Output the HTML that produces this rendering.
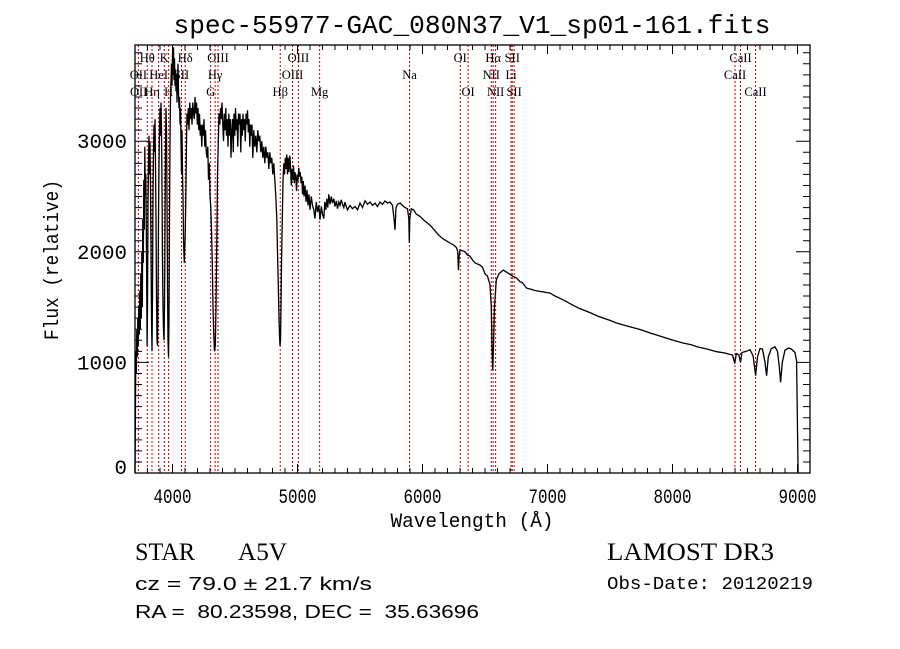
<!DOCTYPE html>
<html><head><meta charset="utf-8"><style>
html,body{margin:0;padding:0;background:#fff;}
svg{display:block;}
text{white-space:pre;}
.mono{font-family:"Liberation Mono","DejaVu Sans Mono",monospace;}
.serif{font-family:"Liberation Serif","DejaVu Serif",serif;}
.sans{font-family:"Liberation Sans","DejaVu Sans",sans-serif;}
</style></head>
<body>
<svg id="chart" width="900" height="649" viewBox="0 0 900 649" xmlns="http://www.w3.org/2000/svg">
<rect width="900" height="649" fill="#fff"/>
<text class="mono" x="472" y="33" font-size="26" text-anchor="middle" textLength="597" lengthAdjust="spacingAndGlyphs">spec-55977-GAC_080N37_V1_sp01-161.fits</text>
<g id="lines"></g>
<g id="labels"></g>
<g id="spec"></g>
<g id="axes"></g>
<text class="mono" transform="translate(58,260) rotate(-90)" font-size="20" text-anchor="middle" textLength="160" lengthAdjust="spacingAndGlyphs">Flux (relative)</text>
<text class="mono" x="472" y="527" font-size="20" text-anchor="middle" textLength="163" lengthAdjust="spacingAndGlyphs">Wavelength (Å)</text>
<text class="serif" x="135" y="560" font-size="25" textLength="60" lengthAdjust="spacingAndGlyphs">STAR</text>
<text class="serif" x="238" y="560" font-size="25" textLength="49" lengthAdjust="spacingAndGlyphs">A5V</text>
<text class="serif" x="607" y="560" font-size="25" textLength="167" lengthAdjust="spacingAndGlyphs">LAMOST DR3</text>
<text class="sans" x="135" y="590" font-size="18" textLength="237" lengthAdjust="spacingAndGlyphs">cz = 79.0 ± 21.7 km/s</text>
<text class="mono" x="607" y="589" font-size="18" textLength="206" lengthAdjust="spacingAndGlyphs">Obs-Date: 20120219</text>
<text class="sans" x="135" y="618" font-size="18" xml:space="preserve" textLength="344" lengthAdjust="spacingAndGlyphs">RA =  80.23598, DEC =  35.63696</text>
</svg>
<script>
const xTicks = [4000,5000,6000,7000,8000,9000];
const yTicks = [0,1000,2000,3000];
const lineWaves = [3727,3798,3836,3889,3934,3969,4072,4102,4305,4341,4364,4862,4960,5007,5177,5896,6302,6365,6550,6565,6585,6708,6718,6733,8500,8544,8664];
const labelNames = ["Hθ","K","Hδ","OIII","OIII","OI","Hα","SII","CaII","OII","HeI","SII","Hγ","OIII","Na","NII","Li","CaII","OII","Hη","H","G","Hβ","Mg","OI","NII","SII","CaII"];
const labelWaves = [3798,3934,4102,4364,5007,6302,6565,6718,8544,3727,3889,4072,4341,4960,5896,6550,6708,8500,3729,3836,3969,4305,4862,5177,6365,6585,6733,8664];
const labelRows = [0,0,0,0,0,0,0,0,0,1,1,1,1,1,1,1,1,1,2,2,2,2,2,2,2,2,2,2];
const specBlue = [[3700,0],[3703,500],[3706,1100],[3710,900],[3714,1300],[3718,1050],[3722,1400],[3726,1150],[3730,1500],[3734,1250],[3738,1650],[3742,1300],[3746,1800],[3750,1400],[3754,2000],[3758,1500],[3762,2300],[3766,1900],[3770,2650],[3774,2200],[3778,2950],[3782,2500],[3786,2700],[3790,2200],[3794,1600],[3797,1150],[3800,1500],[3804,2400],[3808,2800],[3812,3050],[3816,2700],[3820,3000],[3824,2600],[3828,2000],[3832,1400],[3836,1100],[3840,1600],[3844,2500],[3848,2900],[3852,3150],[3856,2900],[3860,3200],[3864,2800],[3868,2300],[3872,1600],[3876,1200],[3880,1150],[3884,1600],[3888,2300],[3892,2800],[3896,3100],[3900,3300],[3904,3050],[3908,3350],[3912,3100],[3916,2600],[3920,1900],[3924,1500],[3928,1300],[3932,1200],[3936,1500],[3940,2200],[3944,2900],[3948,3300],[3952,3100],[3956,2500],[3960,1700],[3964,1200],[3968,1050],[3972,1400],[3976,2300],[3980,3000],[3984,3400],[3988,3550],[3992,3700],[3996,3500],[4000,3800],[4004,3600],[4008,3850],[4012,3550],[4016,3750],[4020,3500],[4024,3650],[4028,3450],[4032,3600],[4036,3350],[4040,3550],[4044,3700],[4048,3450],[4052,3300],[4056,3400],[4060,3150],[4064,3300],[4068,3000],[4072,2700],[4076,3100],[4080,2700],[4084,2500],[4088,2100],[4094,1900],[4100,2100],[4104,2300],[4108,2600],[4112,3000],[4116,3250],[4120,3150],[4126,3300],[4132,3100],[4138,3350],[4144,3200],[4150,3300],[4156,3150],[4162,3350],[4168,3250],[4174,3200],[4180,3400],[4186,3250],[4192,3350],[4198,3150],[4204,3300],[4210,3100],[4216,3250],[4222,3050],[4228,3150],[4234,2950],[4240,3150],[4246,3050],[4252,3200],[4258,2950],[4264,3100],[4270,2900],[4276,2850],[4282,2950],[4288,2650],[4294,2800],[4300,2500],[4306,2400],[4312,2200],[4318,1900],[4324,1500],[4330,1250],[4336,1100],[4342,1150],[4348,1500],[4354,2100],[4360,2700],[4366,3000],[4372,3250],[4378,3150],[4384,3300],[4390,3200],[4396,3350],[4402,3150],[4408,3000],[4414,3250],[4420,3100],[4426,3300],[4432,3050],[4438,3200],[4444,2950],[4450,3250],[4456,3050],[4462,3200],[4468,2850],[4474,3100],[4480,3200],[4486,2900],[4492,3250],[4498,3050],[4504,3300],[4510,3100],[4516,3200],[4522,2950],[4528,3250],[4534,3150],[4540,3250],[4546,2900],[4552,3200],[4558,3050],[4564,3250],[4570,3100],[4576,3200],[4582,3000],[4588,3250],[4594,3150],[4600,3280],[4606,3080],[4612,3200],[4618,2950],[4624,3150],[4630,3050],[4636,3150],[4642,2850],[4650,3100],[4658,2950],[4666,3050],[4674,2900],[4682,3100],[4690,3000],[4698,3050],[4706,2900],[4714,3000],[4722,2850],[4730,2950],[4738,2800],[4746,2950],[4754,2850],[4762,2900],[4770,2750],[4778,2900],[4786,2800],[4794,2850],[4802,2700],[4810,2800]];
const specGreen = [[4818,2650],[4826,2500],[4834,2300],[4840,2000],[4846,1700],[4852,1400],[4856,1250],[4860,1150],[4864,1200],[4868,1500],[4872,1900],[4878,2300],[4884,2650],[4890,2800],[4896,2700],[4902,2850],[4908,2750],[4914,2880],[4920,2700],[4926,2850],[4932,2720],[4938,2870],[4944,2780],[4950,2600],[4956,2750],[4962,2650],[4968,2780],[4974,2620],[4980,2720],[4986,2680],[4992,2550],[4998,2700],[5004,2640],[5010,2760],[5016,2680],[5022,2720],[5028,2620],[5034,2680],[5040,2520],[5046,2640],[5052,2500],[5060,2600],[5068,2450],[5076,2560],[5084,2420],[5092,2520],[5100,2380],[5110,2500],[5120,2420],[5130,2380],[5140,2300],[5150,2450],[5160,2360],[5170,2420],[5180,2290],[5190,2410],[5200,2340],[5210,2300],[5218,2450],[5226,2380],[5234,2480],[5242,2400],[5250,2520],[5260,2430],[5270,2500],[5280,2440],[5290,2480],[5300,2410],[5310,2460],[5320,2390],[5330,2450],[5340,2420],[5350,2470],[5360,2430],[5370,2400],[5380,2450],[5390,2410],[5400,2380],[5420,2420],[5440,2390],[5460,2410],[5480,2380],[5500,2440],[5520,2400],[5540,2460],[5560,2430],[5580,2450],[5600,2420],[5620,2440],[5640,2410],[5660,2450],[5680,2430],[5700,2460],[5720,2440],[5740,2450],[5760,2420],[5772,2300],[5780,2200],[5788,2400],[5800,2430],[5820,2441],[5840,2420],[5860,2400],[5880,2390],[5890,2300],[5894,2080],[5898,2300],[5910,2390],[5930,2378],[5950,2340],[5980,2320],[6010,2287],[6040,2260],[6070,2230],[6100,2190],[6130,2150],[6160,2120],[6190,2100],[6220,2080],[6250,2060],[6270,2040],[6282,2000],[6287,1835],[6292,1950],[6300,2016],[6320,2010],[6340,2000],[6360,1970],[6380,1960],[6400,1926],[6420,1900],[6440,1890]];
const specRed = [[6460,1880],[6480,1860],[6500,1800],[6520,1780],[6540,1700],[6550,1500],[6556,1150],[6562,930],[6568,1150],[6576,1500],[6590,1745],[6610,1800],[6630,1820],[6647,1835],[6680,1810],[6720,1780],[6753,1763],[6780,1730],[6800,1720],[6833,1672],[6870,1660],[6900,1650],[6950,1640],[7020,1627],[7060,1600],[7100,1580],[7150,1550],[7200,1520],[7250,1490],[7287,1474],[7340,1450],[7400,1420],[7450,1400],[7500,1380],[7553,1356],[7600,1340],[7650,1325],[7700,1310],[7760,1290],[7820,1266],[7880,1245],[7950,1220],[8020,1195],[8087,1175],[8150,1160],[8200,1140],[8280,1120],[8353,1097],[8420,1085],[8450,1075],[8480,1067],[8498,990],[8510,1080],[8530,1070],[8544,1000],[8556,1090],[8590,1100],[8620,1115],[8645,1060],[8665,880],[8680,1050],[8700,1125],[8720,1120],[8740,1000],[8753,880],[8766,1050],[8790,1125],[8820,1140],[8840,1100],[8855,950],[8865,820],[8878,1000],[8900,1110],[8930,1130],[8950,1120],[8980,1090],[8993,1010],[9000,400],[9005,0]];

const X0=135,X1=810,Y0=45,Y1=473,WMIN=3700,WMAX=9100,FMIN=0,FMAX=3870;
function xs(w){return X0+(w-WMIN)/(WMAX-WMIN)*(X1-X0);}
function ys(f){return Y1-(f-FMIN)/(FMAX-FMIN)*(Y1-Y0);}
const NS='http://www.w3.org/2000/svg';
function mk(tag,attrs,parent){const e=document.createElementNS(NS,tag);for(const k in attrs)e.setAttribute(k,attrs[k]);parent.appendChild(e);return e;}

const gL=document.getElementById('lines');
lineWaves.forEach(w=>{
  const l=mk('line',{x1:xs(w),x2:xs(w),y1:Y0,y2:Y1,stroke:'#c00000','stroke-width':1,'stroke-dasharray':'2,2'},gL);
  
  
});
const gT=document.getElementById('labels');
const rowY=[62,79,96];
labelNames.forEach((n,i)=>{
  const t=mk('text',{x:xs(labelWaves[i]),y:rowY[labelRows[i]],'font-size':12.5,'text-anchor':'middle',class:'serif'},gT);
  t.textContent=n;
  
  
});
const gS=document.getElementById('spec');
const allSpec=specBlue.concat(specGreen,specRed);
const pts=allSpec.map(p=>xs(p[0]).toFixed(1)+','+ys(p[1]).toFixed(1)).join(' ');
const pl=mk('polyline',{points:pts,fill:'none',stroke:'#000','stroke-width':1.3,'stroke-linejoin':'miter'},gS);



const gA=document.getElementById('axes');
const frame=mk('rect',{x:X0,y:Y0,width:X1-X0,height:Y1-Y0,fill:'none',stroke:'#000','stroke-width':1.3},gA);


let tp='';
for(let w=WMIN;w<=WMAX;w+=100){const x=xs(w);const len=(w%1000===0)?9:5;tp+=`M${x},${Y1}v${-len}M${x},${Y0}v${len}`;}
for(let f=0;f<=FMAX;f+=100){const y=ys(f);const len=(f%1000===0)?14:7;tp+=`M${X0},${y}h${len}M${X1},${y}h${-len}`;}
const tk=mk('path',{d:tp,stroke:'#000','stroke-width':1,fill:'none'},gA);


xTicks.forEach(v=>{
  const t=mk('text',{x:xs(v),y:503,'font-size':20,'text-anchor':'middle',class:'mono',textLength:38,lengthAdjust:'spacingAndGlyphs'},gA);
  t.textContent=v;
  
  
});
yTicks.forEach(v=>{
  const s=String(v);
  const t=mk('text',{x:127,y:ys(v)+(v===0?1:7),'font-size':20,'text-anchor':'end',class:'mono',textLength:s.length*12.5,lengthAdjust:'spacingAndGlyphs'},gA);
  t.textContent=s;
  
  
});
</script>
</body></html>
